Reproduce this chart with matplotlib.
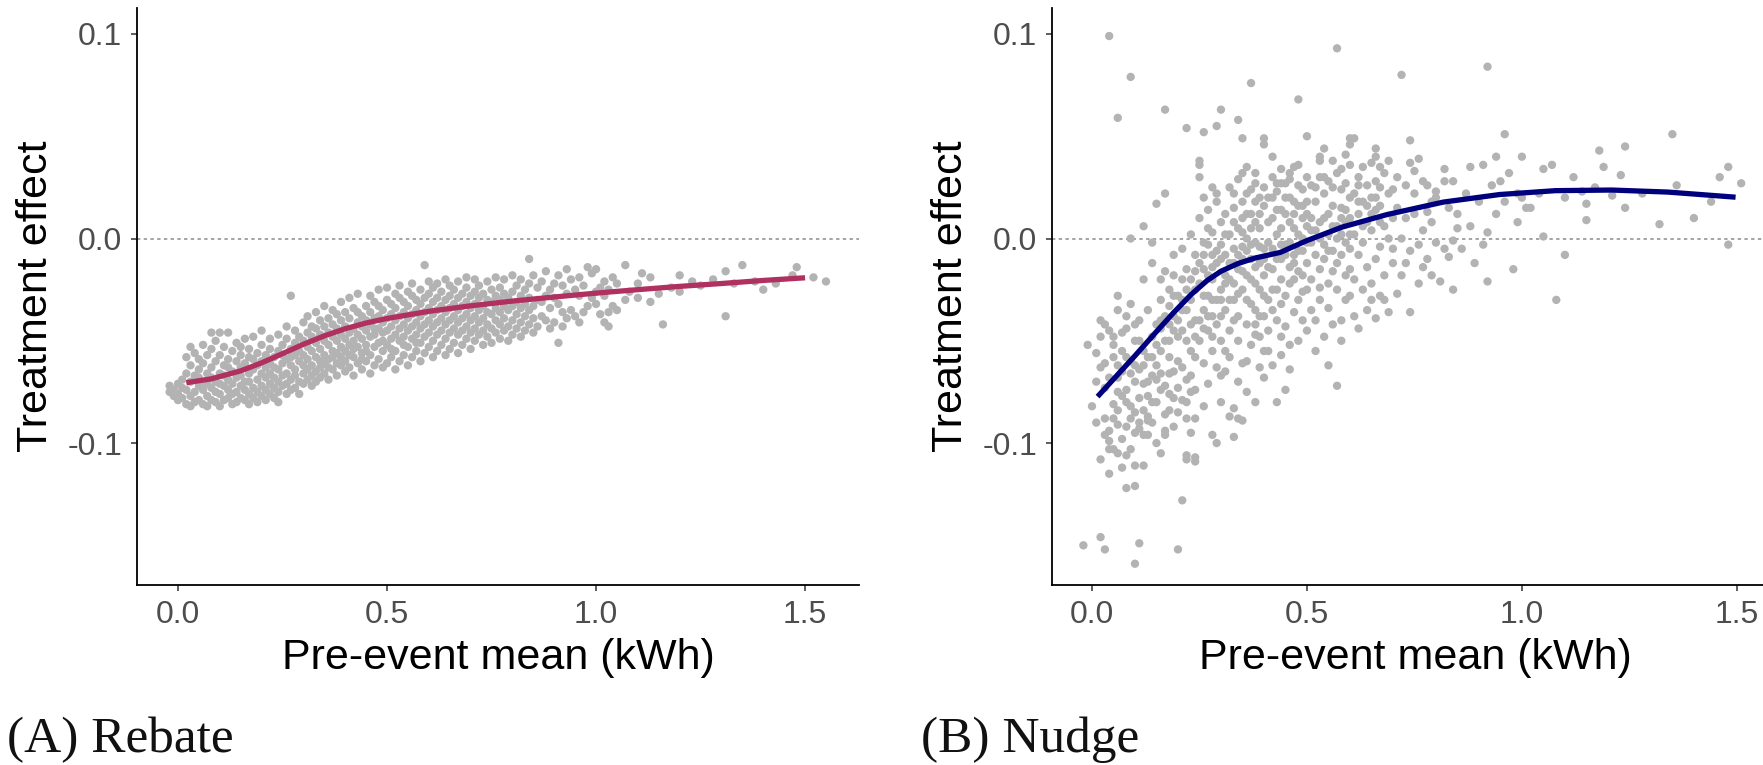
import numpy as np
import matplotlib
matplotlib.use("Agg")
import matplotlib.pyplot as plt
from matplotlib.ticker import FormatStrFormatter

plt.rcParams["font.family"] = ["Liberation Sans", "DejaVu Sans"]
plt.rcParams["axes.unicode_minus"] = False

# ---- data (x in 0.01 kWh, y in 0.001 units) ----
rebate_points = [
    (-2, -72), (-2, -75), (-1, -74), (-1, -77), (0, -71), (0, -76), (0, -79), (1, -73), (1, -78), (1, -69),
    (2, -81), (2, -66), (2, -74), (2, -58), (3, -77), (3, -70), (3, -62), (3, -53), (3, -82),
    (4, -75), (4, -67), (4, -80), (4, -56), (5, -72), (5, -64), (5, -79), (5, -59), (5, -68),
    (6, -81), (6, -74), (6, -61), (6, -52), (6, -70), (7, -77), (7, -66), (7, -57), (7, -82), (7, -71),
    (8, -73), (8, -63), (8, -79), (8, -54), (8, -46), (8, -68), (9, -80), (9, -70), (9, -60), (9, -75), (9, -50),
    (10, -76), (10, -66), (10, -57), (10, -82), (10, -46), (10, -71), (11, -72), (11, -62), (11, -79), (11, -53), (11, -67),
    (12, -78), (12, -69), (12, -59), (12, -74), (12, -46), (12, -63), (13, -81), (13, -65), (13, -55), (13, -71), (13, -76),
    (14, -75), (14, -68), (14, -60), (14, -80), (14, -51), (15, -72), (15, -63), (15, -78), (15, -57), (15, -67), (15, -53),
    (16, -79), (16, -70), (16, -61), (16, -74), (16, -49), (17, -76), (17, -66), (17, -58), (17, -81), (17, -70), (17, -54),
    (18, -73), (18, -64), (18, -78), (18, -59), (18, -48), (19, -80), (19, -69), (19, -56), (19, -75), (19, -62),
    (20, -77), (20, -66), (20, -60), (20, -72), (20, -52), (20, -45), (21, -74), (21, -63), (21, -79), (21, -57), (21, -68),
    (22, -71), (22, -61), (22, -76), (22, -54), (22, -66), (22, -49), (23, -78), (23, -68), (23, -58), (23, -73), (23, -63),
    (24, -75), (24, -64), (24, -55), (24, -70), (24, -47), (24, -80), (25, -72), (25, -61), (25, -52), (25, -67), (25, -57),
    (26, -76), (26, -66), (26, -59), (26, -49), (26, -71), (26, -43), (27, -69), (27, -62), (27, -54), (27, -74), (27, -58), (27, -28),
    (28, -73), (28, -64), (28, -51), (28, -67), (28, -45), (28, -57), (29, -70), (29, -60), (29, -55), (29, -76), (29, -48),
    (30, -66), (30, -57), (30, -50), (30, -71), (30, -62), (30, -41), (31, -69), (31, -59), (31, -53), (31, -64), (31, -46), (31, -38),
    (32, -72), (32, -62), (32, -55), (32, -48), (32, -67), (32, -43), (33, -65), (33, -58), (33, -51), (33, -44), (33, -70), (33, -36),
    (34, -68), (34, -60), (34, -54), (34, -47), (34, -63), (34, -40), (35, -66), (35, -57), (35, -50), (35, -43), (35, -61), (35, -33),
    (36, -69), (36, -59), (36, -52), (36, -46), (36, -39), (36, -63), (37, -64), (37, -55), (37, -48), (37, -42), (37, -58), (37, -35),
    (38, -67), (38, -56), (38, -50), (38, -44), (38, -37), (38, -61), (39, -62), (39, -53), (39, -47), (39, -40), (39, -58), (39, -31),
    (40, -65), (40, -55), (40, -49), (40, -43), (40, -36), (40, -60), (41, -63), (41, -52), (41, -46), (41, -39), (41, -57), (41, -29),
    (42, -67), (42, -58), (42, -50), (42, -44), (42, -34), (42, -54), (43, -61), (43, -53), (43, -47), (43, -41), (43, -36), (43, -27),
    (44, -64), (44, -56), (44, -49), (44, -43), (44, -38), (44, -59), (45, -60), (45, -52), (45, -45), (45, -40), (45, -33), (45, -55),
    (46, -66), (46, -57), (46, -48), (46, -42), (46, -36), (46, -28), (47, -62), (47, -53), (47, -47), (47, -39), (47, -31), (47, -44),
    (48, -59), (48, -51), (48, -44), (48, -38), (48, -33), (48, -25), (49, -63), (49, -55), (49, -46), (49, -41), (49, -35), (49, -50),
    (50, -61), (50, -52), (50, -45), (50, -39), (50, -30), (50, -24), (51, -58), (51, -49), (51, -43), (51, -37), (51, -32), (51, -54),
    (52, -64), (52, -55), (52, -47), (52, -40), (52, -34), (52, -27), (53, -60), (53, -50), (53, -44), (53, -38), (53, -29), (53, -23),
    (54, -57), (54, -48), (54, -42), (54, -36), (54, -31), (54, -52), (55, -62), (55, -53), (55, -45), (55, -39), (55, -33), (55, -26),
    (56, -58), (56, -49), (56, -43), (56, -37), (56, -28), (56, -22), (57, -55), (57, -47), (57, -41), (57, -35), (57, -30), (57, -51),
    (58, -60), (58, -51), (58, -44), (58, -38), (58, -32), (58, -25), (59, -56), (59, -48), (59, -42), (59, -36), (59, -13), (59, -29),
    (60, -53), (60, -46), (60, -40), (60, -34), (60, -27), (60, -21), (61, -58), (61, -50), (61, -43), (61, -37), (61, -31), (61, -24),
    (62, -55), (62, -47), (62, -41), (62, -35), (62, -29), (62, -22), (63, -52), (63, -45), (63, -39), (63, -33), (63, -26),
    (64, -57), (64, -49), (64, -42), (64, -36), (64, -30), (64, -20), (65, -54), (65, -46), (65, -40), (65, -34), (65, -28), (65, -23),
    (66, -51), (66, -44), (66, -38), (66, -32), (66, -25), (67, -56), (67, -47), (67, -41), (67, -35), (67, -29), (67, -21),
    (68, -52), (68, -45), (68, -39), (68, -33), (68, -27), (69, -49), (69, -43), (69, -37), (69, -31), (69, -24), (69, -19),
    (70, -54), (70, -46), (70, -40), (70, -34), (70, -28), (71, -50), (71, -44), (71, -38), (71, -32), (71, -26), (71, -20),
    (72, -47), (72, -41), (72, -35), (72, -29), (72, -23), (73, -52), (73, -45), (73, -39), (73, -33), (73, -27),
    (74, -48), (74, -42), (74, -36), (74, -30), (74, -21), (75, -51), (75, -44), (75, -37), (75, -31), (75, -25),
    (76, -46), (76, -40), (76, -34), (76, -28), (76, -19), (77, -49), (77, -42), (77, -36), (77, -30), (77, -24),
    (78, -45), (78, -39), (78, -33), (78, -27), (78, -20), (79, -50), (79, -43), (79, -35), (79, -29),
    (80, -47), (80, -40), (80, -33), (80, -26), (80, -18), (81, -44), (81, -37), (81, -31), (81, -23),
    (82, -48), (82, -41), (82, -34), (82, -28), (82, -20), (83, -45), (83, -38), (83, -32), (83, -25),
    (84, -42), (84, -35), (84, -29), (84, -10), (84, -22), (85, -46), (85, -39), (85, -33), (85, -18),
    (86, -43), (86, -30), (86, -24), (87, -38), (87, -31), (87, -21), (88, -40), (88, -28), (88, -16),
    (89, -44), (89, -34), (89, -25), (90, -41), (90, -29), (90, -22), (91, -51), (91, -32), (91, -18),
    (92, -43), (92, -36), (92, -23), (93, -39), (93, -27), (93, -15), (94, -35), (94, -20), (95, -38), (95, -25),
    (96, -41), (96, -28), (96, -19), (97, -36), (97, -23), (98, -33), (98, -14), (99, -29), (99, -17),
    (100, -32), (100, -26), (100, -15), (101, -37), (101, -24), (102, -41), (102, -28), (102, -21),
    (103, -43), (103, -36), (103, -25), (104, -33), (104, -19), (105, -35), (105, -22),
    (107, -30), (107, -13), (108, -26), (110, -29), (110, -22), (111, -17), (113, -31), (113, -19),
    (115, -27), (116, -42), (118, -24), (120, -26), (120, -18), (123, -21), (125, -23),
    (128, -20), (131, -38), (131, -16), (133, -22), (135, -13), (138, -21), (140, -25),
    (143, -22), (147, -18), (148, -14), (152, -19), (155, -21),
]

nudge_points = [
    # x below 0.1
    (-2, -150), (2, -146), (3, -152), (-1, -52), (1, -56), (2, -40), (4, -45), (3, -61), (5, -81), (6, -84),
    (6, -75), (8, -74), (4, -94), (4, -103), (5, -103), (2, -108), (4, -115), (8, -122), (6, -91), (9, -103),
    (4, -99), (10, -111), (8, -106), (1, -70), (3, -88), (7, -65), (9, -60), (10, -70), (7, -55), (5, -48),
    (8, -44), (10, -50), (6, -35), (9, -32), (4, 99), (9, 79), (6, 59), (9, 0), (7, -98), (2, -63),
    (3, -73), (0, -82), (1, -90), (9, -88), (10, -95), (8, -80), (6, -68), (10, -42), (5, -58),
    (3, -42), (5, -52), (7, -46), (8, -58), (9, -66), (6, -62), (7, -77), (5, -88), (8, -92), (9, -82),
    (6, -105), (3, -96), (7, -112), (10, -85), (4, -68), (10, -62), (8, -38), (6, -28), (2, -48),
    # 0.1 - 0.2
    (11, -149), (10, -159), (10, -121), (12, -111), (11, -93), (11, -90), (13, -96), (13, -77), (12, -84), (13, -89),
    (12, -71), (14, -67), (15, -69), (16, -66), (16, -105), (17, -94), (17, -96), (18, -84), (17, -86), (13, -87),
    (15, -62), (12, -55), (14, -48), (11, -40), (13, -35), (15, -42), (17, -50), (18, -58), (19, -45), (16, -30),
    (18, -25), (12, -20), (14, -12), (17, -16), (19, -8), (12, 6), (15, 17), (17, 22), (14, -2), (16, -74),
    (19, -78), (18, -66), (19, -38), (20, -28), (11, -64), (14, -80), (16, -55), (20, -73), (19, -92), (15, -100),
    (13, -58), (18, -42), (20, -60), (16, -20), (19, -18), (17, 63),
    (15, -52), (16, -44), (17, -38), (18, -33), (19, -28), (16, -40), (14, -58), (12, -62), (18, -50),
    (11, -78), (13, -70), (15, -80), (17, -72), (19, -65), (12, -96), (14, -90), (18, -76), (20, -85), (11, -50),
    # 0.2 - 0.3
    (20, -152), (21, -128), (22, -108), (24, -109), (22, -106), (24, -107), (23, -95), (22, -88), (24, -88), (21, -79),
    (22, -80), (22, -69), (23, -67), (24, -74), (27, -71), (26, -61), (29, -63), (30, -67), (28, -96), (29, -100),
    (22, 54), (26, 52), (29, 55), (25, 38), (25, 36), (25, 30), (28, 25), (29, 22), (21, -63), (23, -55),
    (25, -50), (27, -45), (24, -40), (26, -35), (28, -30), (21, -45), (23, -30), (25, -22), (27, -18), (29, -12),
    (22, -15), (24, -8), (26, -2), (28, 3), (30, 8), (21, -5), (23, 2), (25, 10), (27, 14), (29, 18),
    (24, -25), (26, -28), (28, -20), (30, -25), (27, -38), (29, -42), (30, -50), (28, -55), (22, -35), (26, -15),
    (28, -8), (30, -3), (27, 5), (29, -30), (30, -38), (26, 20), (30, 63), (28, -48), (24, -58), (21, -20),
    (23, -75), (26, -82), (30, -80),
    (20, -40), (21, -35), (22, -25), (23, -20), (24, -16), (25, -12), (26, -8), (27, -3), (28, -14), (29, -6),
    (30, -10), (22, -50), (24, -48), (26, -44), (28, -38), (30, -30), (20, -48), (27, -28), (25, -40), (23, -42),
    (21, -30),
    # 0.3 - 0.4
    (31, -65), (32, -87), (33, -83), (34, -88), (35, -89), (35, -61), (37, -52), (38, -80), (39, -63), (33, -97),
    (31, -55), (32, -45), (34, -50), (36, -42), (38, -47), (40, -55), (31, -35), (33, -30), (35, -25), (37, -32),
    (39, -38), (32, -20), (34, -15), (36, -18), (38, -22), (40, -28), (31, -8), (33, -5), (35, -10), (37, -3),
    (39, -12), (32, 2), (34, 5), (36, 0), (38, 8), (40, -5), (31, 12), (33, 15), (35, 18), (37, 12),
    (39, 20), (32, 25), (34, 29), (36, 22), (38, 32), (40, 16), (34, 58), (35, 49), (37, 76), (35, 32),
    (33, -40), (36, -60), (38, -35), (31, -22), (34, -70), (36, -75), (39, -25), (37, -10), (40, -18), (39, 5),
    (32, -58), (40, 49), (40, 46), (38, 27), (36, 35), (33, -12), (35, 3), (37, 24), (39, -48), (40, -68),
    (38, -2), (34, -27),
    (31, -18), (32, -12), (33, -22), (34, -8), (35, -16), (36, -6), (37, -20), (38, -14), (39, -4), (40, -10),
    (31, 2), (33, 8), (35, -4), (37, 5), (39, 12), (32, -30), (34, -38), (36, -30), (38, -42), (40, -38),
    (35, 10), (33, 22), (36, 12), (38, 18), (40, 25),
    # 0.4 - 0.5
    (43, -80), (45, -74), (42, -62), (44, -57), (46, -52), (48, -50), (44, -48), (41, -45), (43, -40), (45, -43),
    (47, -36), (49, -40), (41, -30), (43, -25), (45, -28), (47, -20), (49, -26), (42, -15), (44, -10), (46, -14),
    (48, -6), (50, -12), (41, -2), (43, 2), (45, -3), (47, 5), (49, 0), (42, 10), (44, 14), (46, 8),
    (48, 16), (50, 6), (41, 20), (43, 23), (45, 27), (47, 18), (49, 24), (42, 30), (44, 34), (46, 29),
    (48, 36), (50, 30), (43, 27), (44, 27), (48, 68), (50, 50), (47, 35), (46, 32), (49, -18), (42, -35),
    (46, -64), (41, -55), (50, -45), (48, -30), (45, 12), (44, -20), (47, -8), (50, 18), (42, 40), (49, 10),
    (41, -14), (42, -5), (43, -10), (44, -3), (45, -8), (46, -2), (47, -12), (48, 2), (49, -6), (50, -2),
    (41, 8), (43, 14), (45, 20), (47, 12), (49, 16), (42, -25), (44, -32), (46, -22), (48, -16), (50, -25),
    (42, 20), (44, 5), (46, 20), (48, 26), (50, 12),
    # 0.5 - 0.6
    (53, 40), (53, 38), (57, 93), (59, 41), (60, 49), (61, 49), (60, 46), (52, -55), (54, -48), (56, -42),
    (58, -40), (51, -35), (53, -30), (55, -34), (57, -25), (59, -30), (51, -20), (53, -15), (55, -22), (57, -12),
    (59, -18), (52, -8), (54, -3), (56, -6), (58, 2), (60, -5), (51, 4), (53, 8), (55, 12), (57, 6),
    (59, 14), (52, 18), (54, 22), (56, 16), (58, 24), (60, 20), (51, 26), (53, 30), (55, 28), (57, 32),
    (59, 27), (54, 44), (56, 38), (58, 34), (60, 36), (57, -72), (55, -62), (52, -40), (58, -50), (60, -28),
    (54, 10), (56, -16), (51, -2), (59, 8), (53, -24), (55, 2), (58, 15), (60, 10),
    (51, 10), (52, 4), (53, 0), (54, -10), (55, -6), (56, 6), (57, 0), (58, -8), (59, -2), (60, 2),
    (52, 25), (54, 30), (56, 25), (58, 10),
    # 0.6 - 0.7
    (66, 44), (66, 40), (65, 37), (67, 35), (62, 30), (64, 26), (66, 28), (68, 32), (70, 24), (61, 22),
    (63, 18), (65, 20), (67, 16), (69, 22), (62, 12), (64, 8), (66, 14), (68, 6), (70, 10), (61, 2),
    (63, -2), (65, 4), (67, -4), (69, 0), (62, -8), (64, -14), (66, -10), (68, -18), (70, -12), (61, -20),
    (63, -25), (65, -22), (67, -28), (69, -36), (66, -39), (64, -35), (62, -44), (61, -38), (60, -15), (68, -30),
    (70, -5), (63, 35), (69, 38), (67, 25), (65, -30), (62, 26),
    (62, 18), (64, 16), (66, 20), (63, 6), (67, 8), (65, 12),
    # 0.7 - 0.85
    (72, 80), (74, 48), (74, 37), (76, 39), (71, 30), (73, 26), (75, 22), (77, 28), (79, 18), (71, 15),
    (73, 10), (75, 12), (77, 4), (79, 8), (72, 0), (74, -6), (76, -3), (78, -10), (80, -2), (71, -27),
    (74, -36), (72, -18), (76, -22), (78, 13), (80, 20), (82, 34), (82, 28), (81, -21), (84, -25), (82, -5),
    (83, 15), (84, 28), (80, 23), (85, 5), (84, -1), (78, 26), (77, -14), (73, -12), (75, 33), (79, -18),
    (83, -9), (85, 12),
    # 0.85 - 1.0
    (88, 35), (91, 36), (94, 40), (96, 51), (92, 84), (89, -12), (92, -21), (88, 6), (90, 18), (92, 3),
    (94, 12), (95, 28), (96, 18), (98, -15), (99, 8), (100, 40), (100, 20), (87, 22), (93, 26), (97, 32),
    (86, -5), (91, -3), (99, 22),
    # above 1.0
    (105, 34), (107, 36), (105, 1), (108, -30), (110, -8), (112, 30), (114, 23), (115, 17), (115, 9), (118, 43),
    (119, 35), (121, 21), (123, 31), (124, 45), (124, 15), (132, 7), (135, 51), (140, 10), (148, 35), (146, 30),
    (151, 27), (148, -3), (102, 15), (101, 15), (104, 22), (110, 20), (128, 22), (144, 18), (136, 26), (117, 25),
]

# smoothed fits
rebate_fit_x = [0.02, 0.08, 0.15, 0.20, 0.25, 0.30, 0.35, 0.40, 0.45, 0.50, 0.60, 0.70,
                0.80, 0.90, 1.00, 1.10, 1.20, 1.30, 1.40, 1.50]
rebate_fit_y = [-0.0705, -0.0686, -0.0647, -0.0608, -0.0563, -0.0517, -0.0476, -0.0441, -0.0413,
                -0.0391, -0.0356, -0.0329, -0.0306, -0.0286, -0.0267, -0.0250, -0.0234, -0.0220,
                -0.0205, -0.0192]
nudge_fit_x = [0.013, 0.06, 0.098, 0.15, 0.19, 0.23, 0.268, 0.30, 0.34, 0.38, 0.438, 0.5, 0.582,
               0.686, 0.817, 0.948, 1.078, 1.209, 1.34, 1.497]
nudge_fit_y = [-0.0773, -0.0665, -0.0578, -0.0455, -0.0362, -0.0275, -0.0205, -0.0160, -0.0122,
               -0.0095, -0.0068, -0.0010, 0.0056, 0.0117, 0.0178, 0.0215, 0.0234, 0.0237, 0.0227,
               0.0202]

x_ticks = [0.0, 0.5, 1.0, 1.5]
y_ticks = [-0.1, 0.0, 0.1]

W, H = 1763, 765
fig = plt.figure(figsize=(W / 100, H / 100), dpi=100)


def make_panel(rect, pts, fx, fy, line_color, xlim, title, title_x):
    ax = fig.add_axes(rect)
    px = np.array([p[0] for p in pts]) / 100.0
    py = np.array([p[1] for p in pts]) / 1000.0
    ax.axhline(0, color="#8C8C8C", lw=1.1, ls=(0, (2.2, 2.2)), zorder=1)
    ax.scatter(px, py, s=36, color="#B3B3B3", edgecolors="none", zorder=2)
    ax.plot(fx, fy, color=line_color, lw=3.8, solid_capstyle="butt",
            solid_joinstyle="round", zorder=3)
    ax.set_xlim(*xlim)
    ax.set_ylim(-0.1694, 0.1127)
    ax.set_xticks(x_ticks)
    ax.set_yticks(y_ticks)
    ax.xaxis.set_major_formatter(FormatStrFormatter("%.1f"))
    ax.yaxis.set_major_formatter(FormatStrFormatter("%.1f"))
    for s in ["top", "right"]:
        ax.spines[s].set_visible(False)
    for s in ["left", "bottom"]:
        ax.spines[s].set_linewidth(1.3)
        ax.spines[s].set_color("black")
    ax.tick_params(length=4.5, width=1.1, color="#333333", labelcolor="#4D4D4D",
                   labelsize=23, pad=6)
    ax.set_xlabel("Pre-event mean (kWh)", fontsize=31, labelpad=6)
    ax.set_ylabel("Treatment effect", fontsize=31, labelpad=8)
    fig.text(title_x / W, 1 - 752 / H, title, fontsize=37, family="Liberation Serif",
             ha="left", va="baseline", color="#111111")
    return ax


make_panel([137 / W, 1 - 585 / H, 722 / W, 577 / H], rebate_points, rebate_fit_x, rebate_fit_y,
           "#B03060", (-0.098, 1.629), "(A) Rebate", 7)
make_panel([1052 / W, 1 - 585 / H, 727 / W, 577 / H], nudge_points, nudge_fit_x, nudge_fit_y,
           "#00007F", (-0.093, 1.598), "(B) Nudge", 921)

fig.savefig("out.png", dpi=100)
